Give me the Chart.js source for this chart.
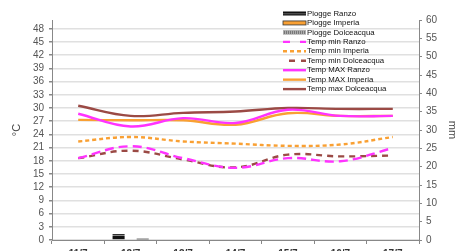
<!DOCTYPE html>
<html><head><meta charset="utf-8">
<script src="https://cdn.jsdelivr.net/npm/chart.js@4"></script>
<style>html,body{margin:0;padding:0;background:#fff;overflow:hidden}canvas{display:block}</style>
</head><body>
<canvas id="c" width="459" height="251"></canvas>
<script>
// ---- data ----
const categories = ['11/7','12/7','13/7','14/7','15/7','16/7','17/7'];
const pioggeRanzo = [0,1.6,0,0,0,0,0];
const pioggeImperia = [0,0,0,0,0,0,0];
const pioggeDolceacqua = [0,0.4,0,0,0,0,0];
const tminRanzo = [18.6,21.3,18.6,16.4,18.6,17.9,20.9];
const tminImperia = [22.4,23.4,22.4,21.9,21.4,21.7,23.4];
const tminDolceacqua = [18.6,20.3,18.3,16.5,19.4,19.0,19.2];
const tmaxRanzo = [28.7,25.8,27.7,26.6,29.6,28.2,28.2];
const tmaxImperia = [27.3,27.2,27.2,26.2,28.8,28.2,28.2];
const tmaxDolceacqua = [30.5,28.2,28.9,29.2,30.0,29.8,29.8];
const tempTicks = [0,3,6,9,12,15,18,21,24,27,30,33,36,39,42,45,48];
const rainTicks = [0,5,10,15,20,25,30,35,40,45,50,55,60];

// ---- styles ----
const MAG = '#ff33ff', ORA = '#f9a033', BRN = '#9b4a45';
function stripePattern(){
  const c = document.createElement('canvas'); c.width = 4; c.height = 4;
  const x = c.getContext('2d');
  x.fillStyle = '#111'; x.fillRect(0,0,4,4);
  x.fillStyle = '#888'; x.fillRect(0,3,4,1);
  return x.createPattern(c,'repeat');
}
const FONT = "'Liberation Sans', Arial, sans-serif";

const legendPlugin = {
  id: 'customLegend',
  afterDraw(chart){
    const ctx = chart.ctx;
    const x0 = 283, x1 = 306, tx = 307, y0 = 13.5, dy = 9.45;
    ctx.save();
    ctx.font = '7.8px ' + FONT;
    ctx.textBaseline = 'middle';
    chart.data.datasets.forEach((ds, i) => {
      const y = y0 + i*dy;
      if (ds.type === 'bar') {
        if (i === 0) { ctx.fillStyle = '#111'; ctx.fillRect(x0, y-2, x1-x0, 4); ctx.fillStyle='#888'; ctx.fillRect(x0,y,x1-x0,0.7); }
        else if (i === 1) { ctx.fillStyle = ORA; ctx.fillRect(x0, y-2, x1-x0, 4); ctx.strokeStyle='#333'; ctx.lineWidth=0.8; ctx.strokeRect(x0, y-2, x1-x0, 4); }
        else { ctx.fillStyle = '#777'; ctx.fillRect(x0, y-2, x1-x0, 4); ctx.fillStyle='#bbb'; for(let k=x0;k<x1;k+=2){ctx.fillRect(k,y-2,0.8,4);} }
      } else {
        ctx.strokeStyle = ds.borderColor; ctx.lineWidth = ds.borderWidth;
        ctx.setLineDash(ds.legendDash || []);
        ctx.lineDashOffset = ds.legendOffset || 0;
        ctx.beginPath(); ctx.moveTo(x0, y); ctx.lineTo(x1, y); ctx.stroke();
        ctx.setLineDash([]);
      }
      ctx.fillStyle = '#111';
      ctx.fillText(ds.label, tx, y);
    });
    ctx.restore();
  }
};

const lineDs = (label, data, color, dash, legendDash, legendOffset) => ({
  type: 'line', label, data, yAxisID: 'y', borderColor: color, backgroundColor: color,
  borderWidth: 2.4, borderDash: dash, legendDash, legendOffset, pointRadius: 0, tension: 0.4, fill: false, order: 1
});

new Chart(document.getElementById('c'), {
  data: {
    labels: categories,
    datasets: [
      { type: 'bar', label: 'Piogge Ranzo', data: pioggeRanzo, yAxisID: 'y2', backgroundColor: stripePattern(), borderWidth: 0, order: 10, categoryPercentage: 0.69, barPercentage: 1.0 },
      { type: 'bar', label: 'Piogge Imperia', data: pioggeImperia, yAxisID: 'y2', backgroundColor: ORA, borderWidth: 0, order: 10, categoryPercentage: 0.69, barPercentage: 1.0 },
      { type: 'bar', label: 'Piogge Dolceacqua', data: pioggeDolceacqua, yAxisID: 'y2', backgroundColor: '#666', borderWidth: 0, order: 10, categoryPercentage: 0.69, barPercentage: 1.0 },
      lineDs('Temp min Ranzo', tminRanzo, MAG, [9,5], [7,10], 0),
      lineDs('Temp min Imperia', tminImperia, ORA, [4,3], [4,3], 0),
      lineDs('Temp min Dolceacqua', tminDolceacqua, BRN, [6,5], [6,6], 6),
      lineDs('Temp MAX Ranzo', tmaxRanzo, MAG, [], []),
      lineDs('Temp MAX Imperia', tmaxImperia, ORA, [], []),
      lineDs('Temp max Dolceacqua', tmaxDolceacqua, BRN, [], [])
    ]
  },
  options: {
    responsive: false, animation: false,
    layout: { padding: { top: 20, left: 0, right: 0, bottom: 0 } },
    plugins: { legend: { display: false }, tooltip: { enabled: false } },
    scales: {
      x: {
        type: 'category', offset: true,
        grid: { offset: true, drawOnChartArea: false, drawTicks: true, tickLength: 4, tickColor: '#888' },
        border: { color: '#888', width: 1 },
        ticks: { color: '#333', font: { family: FONT, size: 10, weight: 'bold' }, padding: 4, maxRotation: 0, autoSkip: false },
        afterFit(s){ s.height = 11; }
      },
      y: {
        position: 'left', min: 0, max: 50,
        afterBuildTicks(s){ s.ticks = tempTicks.map(v => ({ value: v })); },
        grid: { color: '#e0e0e0', lineWidth: 1.5, tickLength: 3, tickColor: '#888' },
        border: { color: '#888', width: 1 },
        ticks: { color: '#555', font: { family: FONT, size: 10 }, padding: 5, autoSkip: false },
        title: { display: true, text: '°C', color: '#444', font: { family: FONT, size: 11 }, padding: { top: 10, bottom: 0 } },
        afterFit(s){ s.width = 52; }
      },
      y2: {
        position: 'right', min: 0, max: 60,
        afterBuildTicks(s){ s.ticks = rainTicks.map(v => ({ value: v })); },
        grid: { drawOnChartArea: false, tickLength: 3, tickColor: '#888' },
        border: { color: '#888', width: 1 },
        ticks: { color: '#555', font: { family: FONT, size: 10 }, padding: 4, autoSkip: false },
        title: { display: true, text: 'mm', color: '#444', font: { family: FONT, size: 11 }, padding: { top: 0, bottom: 0 } },
        afterFit(s){ s.width = 40; }
      }
    }
  },
  plugins: [legendPlugin]
});
</script>
</body></html>
